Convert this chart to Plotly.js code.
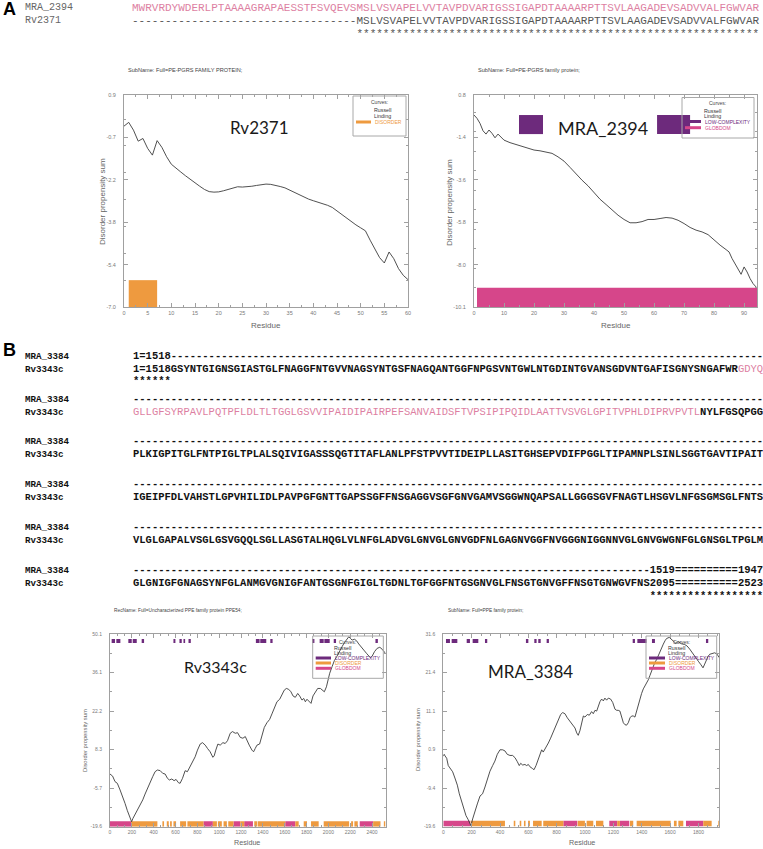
<!DOCTYPE html>
<html><head><meta charset="utf-8">
<script src="https://cdn.plot.ly/plotly-3.0.1.min.js"></script>
<style>html,body{margin:0;padding:0;background:#fff}#chart{width:763px;height:849px}</style>
</head><body><div id="chart"></div>
<script>
// ================= DATA =================
// Panel A – Rv2371 (GlobPlot disorder propensity sum)
const rv2371Residue = [0,1,2,3,4,5,6,7,8,9,10,11,12,13,14,15,16,17,18,19,20,21,22,23,24,25,26,27,28,29,30,31,32,33,34,35,36,37,38,39,40,41,42,43,44,45,46,47,48,49,50,51,52,53,54,55,56,57,58,59,60];
const rv2371Propensity = [-0.26,-0.12,-0.41,-0.82,-0.72,-1.09,-1.34,-0.80,-1.05,-1.40,-1.68,-1.84,-1.97,-2.11,-2.25,-2.37,-2.50,-2.62,-2.70,-2.72,-2.71,-2.67,-2.62,-2.57,-2.52,-2.53,-2.52,-2.50,-2.47,-2.45,-2.42,-2.43,-2.46,-2.51,-2.56,-2.65,-2.73,-2.82,-2.91,-2.98,-3.04,-3.09,-3.14,-3.21,-3.29,-3.42,-3.55,-3.69,-3.83,-3.94,-4.05,-4.16,-4.51,-4.81,-5.16,-5.36,-4.95,-5.20,-5.57,-5.82,-5.98];
const rv2371DisorderStart = [1];
const rv2371DisorderEnd = [7];

// Panel A – MRA_2394
const mra2394Residue = [0,1,2,3,4,5,6,7,8,9,10,12,14,16,18,20,22,24,26,28,30,32,34,36,38,40,42,44,46,48,50,52,54,56,58,60,62,64,66,68,70,72,74,76,78,80,82,84,85,86,88,89,90,91,92,93,94];
const mra2394Propensity = [-0.23,-0.40,-0.66,-1.04,-1.21,-1.00,-1.17,-1.40,-1.21,-1.38,-1.52,-1.65,-1.74,-1.86,-1.96,-2.03,-2.07,-2.12,-2.20,-2.38,-2.60,-2.92,-3.27,-3.58,-3.87,-4.23,-4.56,-4.83,-5.12,-5.38,-5.60,-5.77,-5.77,-5.71,-5.60,-5.60,-5.55,-5.50,-5.53,-5.64,-5.81,-6.01,-6.15,-6.24,-6.38,-6.67,-6.92,-7.15,-7.27,-7.61,-8.13,-8.42,-8.04,-8.30,-8.64,-8.90,-9.07];
const mra2394GlobdomStart = [1];
const mra2394GlobdomEnd = [95];
const mra2394LowComplexStart = [15, 61];
const mra2394LowComplexEnd = [23, 72];

// Panel B – Rv3343c
const rv3343cResidue = [0,24,46,67,92,116,138,159,177,188,198,210,229,254,275,300,321,342,367,391,413,434,459,483,505,526,544,566,587,605,627,642,664,688,709,734,758,780,801,826,847,872,893,917,942,954,969,988,1009,1034,1055,1076,1101,1122,1147,1168,1193,1217,1239,1254,1275,1300,1315,1330,1346,1370,1391,1413,1437,1462,1483,1505,1529,1554,1575,1596,1615,1636,1657,1676,1697,1719,1737,1758,1774,1789,1804,1829,1841,1859,1881,1902,1927,1948,1963,1982,1994,2012,2034,2055,2079,2104,2125,2147,2171,2187,2202,2217,2238,2257,2278,2300,2324,2349,2370,2385,2401,2422,2446,2471,2492,2514,2523];
const rv3343cPropensity = [-0.55,-1.3,-3.3,-3.9,-6.3,-8.7,-11.2,-13.8,-15.4,-16.9,-17.8,-16.6,-15.2,-13.0,-11.4,-9.9,-7.8,-5.7,-3.9,-1.5,0.3,0.9,0.7,-0.3,-0.55,-2.1,-2.7,-2.35,-2.95,-2.5,-3.7,-3.9,-2.1,0.65,0.3,2.1,3.9,5.7,8.1,10.3,10.8,9.9,8.7,7.5,5.5,6.0,8.1,10.3,9.9,10.8,10.5,11.5,14.2,14.8,14.2,14.4,12.7,12.4,13.0,11.5,9.9,8.1,7.5,8.7,9.9,10.3,13.0,16.3,18.0,19.2,21.2,23.6,25.6,26.5,28.4,29.8,30.4,30.1,29.2,27.7,27.2,28.6,27.7,26.2,26.8,25.6,26.5,25.6,25.0,27.7,28.9,30.4,30.4,29.8,29.2,31.0,33.5,35.9,38.3,40.5,42.1,43.7,45.5,47.0,48.5,49.1,48.5,47.9,48.2,47.7,46.5,45.3,44.3,43.1,42.1,41.5,42.1,43.7,44.9,45.3,44.6,43.7,43.1];
const rv3343cGlobdomStart = [0,856,1131,1229,1605,2287];
const rv3343cGlobdomEnd   = [193,942,1193,1309,1697,2410];
const rv3343cDisorderStart = [193,480,520,550,581,642,709,942,988,1040,1083,1193,1321,1352,1697,1774,1841,1957,2208,2238,2410,2508];
const rv3343cDisorderEnd   = [434,495,538,566,605,697,856,979,1024,1070,1131,1229,1346,1605,1728,1804,1911,2190,2226,2269,2477,2523];
const rv3343cLowComplexStart = [15,58,168,208,290,581,636,673,719,1336,1376,1468,1850,1920,1963,2049,2431];
const rv3343cLowComplexEnd   = [46,95,199,245,312,599,657,688,740,1370,1431,1489,1872,1957,2012,2070,2453];

// Panel B – MRA_3384
const mra3384Residue = [0,6,12,24,35,52,66,82,99,113,129,146,160,176,188,195,207,223,240,259,277,294,310,329,348,364,381,400,419,435,451,470,489,506,522,536,546,560,576,588,600,611,628,640,654,670,682,694,705,722,741,757,776,795,811,828,842,858,875,894,912,929,941,952,964,976,988,999,1016,1030,1046,1058,1070,1082,1093,1105,1117,1129,1140,1152,1164,1180,1195,1211,1223,1234,1246,1258,1270,1281,1293,1305,1317,1329,1340,1352,1364,1376,1387,1399,1411,1423,1434,1446,1458,1470,1481,1493,1505,1517,1528,1540,1552,1564,1575,1594,1611,1627,1641,1656,1680,1703,1720,1738,1755,1773,1790,1802,1818,1832,1844,1855,1867,1879,1896,1914,1930,1947];
const mra3384Propensity = [-0.9,-0.4,-0.8,-1.45,-3.4,-4.15,-5.05,-6.7,-8.6,-10.9,-13.1,-15.4,-16.7,-17.8,-19.0,-19.4,-17.6,-15.4,-13.6,-11.5,-10.9,-9.1,-7.3,-4.9,-3.4,-2.2,-0.4,0.8,0.8,0.5,-0.4,-0.7,-0.7,-1.3,-2.35,-3.4,-2.8,-3.25,-3.1,-3.4,-3.1,-3.7,-4.15,-4.5,-3.4,-1.9,-0.55,0.8,0.2,1.25,2.6,3.9,5.7,7.5,8.9,10.2,10.7,10.4,9.3,8.4,7.35,6.6,5.3,4.65,5.9,8.0,9.8,9.5,10.2,10.0,10.95,10.4,11.3,11.1,12.5,13.6,14.3,13.8,14.55,14.0,14.55,14.3,13.4,11.6,11.3,11.3,11.1,9.3,8.0,7.5,7.35,8.0,9.3,9.8,9.8,9.5,11.1,12.7,14.7,15.8,17.0,17.9,18.3,19.4,20.6,21.9,23.2,24.1,24.8,25.9,27.1,28.2,28.9,29.8,30.4,30.7,30.2,29.5,29.1,29.6,29.0,28.8,28.4,27.6,26.6,25.6,24.8,24.2,23.4,22.6,23.6,24.7,25.6,26.2,26.5,26.6,26.3,25.3];
const mra3384GlobdomStart = [0,847,1171,1246,1712];
const mra3384GlobdomEnd   = [190,945,1227,1312,1834];
const mra3384DisorderStart = [193,497,539,569,598,633,705,948,1011,1077,1227,1317,1364,1627,1658,1834,1940];
const mra3384DisorderEnd   = [435,508,550,580,611,694,847,999,1058,1129,1246,1340,1604,1646,1693,1893,1947];
const mra3384LowComplexStart = [19,59,165,207,294,583,642,670,729,1336,1369,1472,1853];
const mra3384LowComplexEnd   = [47,99,188,247,310,600,658,687,745,1352,1434,1493,1869];

// Tick labels
const rv2371YTickVals = [0.9,-0.68,-2.26,-3.84,-5.42,-7.0];
const rv2371YTickText = ['0.9','-0.7','-2.2','-3.8','-5.4','-7.0'];
const mra2394YTickVals = [0.8,-1.38,-3.56,-5.74,-7.92,-10.1];
const mra2394YTickText = ['0.8','-1.4','-3.6','-5.8','-8.0','-10.1'];
const rv3343cYTickVals = [-19.6,-5.66,8.28,22.22,36.16,50.1];
const rv3343cYTickText = ['-19.6','-5.7','8.3','22.2','36.1','50.1'];
const mra3384YTickVals = [-19.6,-9.36,0.88,11.12,21.36,31.6];
const mra3384YTickText = ['-19.6','-9.4','0.9','11.1','21.4','31.6'];

// Alignment text
const seqA_MRA2394 = 'MWRVRDYWDERLPTAAAAGRAPAESSTFSVQEVSMSLVSVAPELVVTAVPDVARIGSSIGAPDTAAAARPTTSVLAAGADEVSADVVALFGWVAR';
const seqA_Rv2371 = '----------------------------------MSLVSVAPELVVTAVPDVARIGSSIGAPDTAAAARPTTSVLAAGADEVSADVVALFGWVAR';
const starsA = '\u00A0'.repeat(34) + '*'.repeat(61);

const seqB_MRA = [
  '1=1518' + '-'.repeat(94),
  '-'.repeat(100), '-'.repeat(100), '-'.repeat(100), '-'.repeat(100),
  '-'.repeat(82) + '1519==========1947'
];
const seqB_Rv = [
  '1=1518GSYNTGIGNSGIASTGLFNAGGFNTGVVNAGSYNTGSFNAGQANTGGFNPGSVNTGWLNTGDINTGVANSGDVNTGAFISGNYSNGAFWR|GDYQ',
  '|GLLGFSYRPAVLPQTPFLDLTLTGGLGSVVIPAIDIPAIRPEFSANVAIDSFTVPSIPIPQIDLAATTVSVGLGPITVPHLDIPRVPVTL|NYLFGSQPGG',
  'PLKIGPITGLFNTPIGLTPLALSQIVIGASSSQGTITAFLANLPFSTPVVTIDEIPLLASITGHSEPVDIFPGGLTIPAMNPLSINLSGGTGAVTIPAIT',
  'IGEIPFDLVAHSTLGPVHILIDLPAVPGFGNTTGAPSSGFFNSGAGGVSGFGNVGAMVSGGWNQAPSALLGGGSGVFNAGTLHSGVLNFGSGMSGLFNTS',
  'VLGLGAPALVSGLGSVGQQLSGLLASGTALHQGLVLNFGLADVGLGNVGLGNVGDFNLGAGNVGGFNVGGGNIGGNNVGLGNVGWGNFGLGNSGLTPGLM',
  'GLGNIGFGNAGSYNFGLANMGVGNIGFANTGSGNFGIGLTGDNLTGFGGFNTGSGNVGLFNSGTGNVGFFNSGTGNWGVFNS2095==========2523'
];

// ================= STYLE / LAYOUT =================
const W = 763, H = 849;
const PX = x => x / W, PY = y => 1 - y / H;
const C_ORANGE = '#EE9A3F', C_PURPLE = '#6D2A7C', C_PINK = '#D6468A', C_SEQPINK = '#DD7FA2';
const LINE = '#3c3c3c', AX = '#a0a0a0';
const SANS = 'Liberation Sans, Arial, sans-serif';
const MONO = 'Liberation Mono, DejaVu Sans Mono, monospace';

function segBars(starts, ends, y0, y1, color, xa, ya) {
  return {
    type: 'bar', xaxis: xa, yaxis: ya,
    x: starts.map((s, i) => (s + ends[i]) / 2),
    width: ends.map((e, i) => e - starts[i]),
    base: starts.map(() => y0),
    y: starts.map(() => y1 - y0),
    marker: { color: color, line: { width: 0 } },
    hoverinfo: 'skip', showlegend: false
  };
}
function curve(x, y, xa, ya) {
  return { type: 'scatter', mode: 'lines', x: x, y: y, xaxis: xa, yaxis: ya,
    line: { color: LINE, width: 0.9 }, hoverinfo: 'skip', showlegend: false };
}

const traces = [
  segBars(rv2371DisorderStart, rv2371DisorderEnd, -7.0, -6.0, C_ORANGE, 'x', 'y'),
  curve(rv2371Residue, rv2371Propensity, 'x', 'y'),
  segBars(mra2394GlobdomStart, mra2394GlobdomEnd, -10.1, -9.11, C_PINK, 'x2', 'y2'),
  segBars(mra2394LowComplexStart, mra2394LowComplexEnd, -1.21, -0.23, C_PURPLE, 'x2', 'y2'),
  curve(mra2394Residue, mra2394Propensity, 'x2', 'y2'),
  segBars(rv3343cGlobdomStart, rv3343cGlobdomEnd, -19.6, -17.6, C_PINK, 'x3', 'y3'),
  segBars(rv3343cDisorderStart, rv3343cDisorderEnd, -19.6, -17.6, C_ORANGE, 'x3', 'y3'),
  segBars(rv3343cLowComplexStart, rv3343cLowComplexEnd, 46.8, 48.3, C_PURPLE, 'x3', 'y3'),
  curve(rv3343cResidue, rv3343cPropensity, 'x3', 'y3'),
  segBars(mra3384GlobdomStart, mra3384GlobdomEnd, -19.6, -18.1, C_PINK, 'x4', 'y4'),
  segBars(mra3384DisorderStart, mra3384DisorderEnd, -19.6, -18.1, C_ORANGE, 'x4', 'y4'),
  segBars(mra3384LowComplexStart, mra3384LowComplexEnd, 29.2, 30.3, C_PURPLE, 'x4', 'y4'),
  curve(mra3384Residue, mra3384Propensity, 'x4', 'y4')
];

function ax(extra, fs) {
  return Object.assign({
    showline: true, linecolor: AX, linewidth: 1, mirror: 'ticks',
    ticks: 'inside', ticklen: 4, tickcolor: AX, tickwidth: 1,
    showgrid: false, zeroline: false, fixedrange: true,
    tickfont: { family: SANS, size: fs, color: '#7a7a7a' }
  }, extra);
}
function xa(dom, anchor, range, dtick, mdtick, fs) {
  return ax({ domain: dom, anchor: anchor, range: range, tickmode: 'linear', tick0: 0, dtick: dtick,
    minor: { ticks: 'inside', ticklen: 2, tickcolor: AX, tick0: 0, dtick: mdtick } }, fs);
}
function ya(dom, anchor, range, vals, text, fs) {
  return ax({ domain: dom, anchor: anchor, range: range, tickmode: 'array', tickvals: vals, ticktext: text,
    ticklabelstandoff: 6,
    minor: { ticks: 'inside', ticklen: 2, tickcolor: AX, tick0: range[0], dtick: (vals[1] - vals[0]) / 2 } }, fs);
}

const annotations = [];
function txt(x, y, text, o) {
  o = o || {};
  annotations.push({
    xref: 'paper', yref: 'paper', x: PX(x), y: PY(y), text: text, showarrow: false,
    xanchor: o.xa || 'left', yanchor: 'middle', textangle: o.angle || 0,
    font: { family: o.family || SANS, size: o.size || 6, color: o.color || '#333' },
    borderpad: 0
  });
}

// Panel labels
txt(2, 9, '<b>A</b>', { size: 18, color: '#000' });
txt(2, 350, '<b>B</b>', { size: 18, color: '#000' });

// Section A alignment
txt(24, 8, 'MRA_2394', { family: MONO, size: 10, color: '#666' });
txt(131, 8, seqA_MRA2394, { family: MONO, size: 11, color: C_SEQPINK });
txt(24, 21, 'Rv2371', { family: MONO, size: 10, color: '#666' });
txt(131, 21, seqA_Rv2371, { family: MONO, size: 11, color: '#555' });
txt(131, 34, starsA, { family: MONO, size: 11, color: '#555' });

// Section B alignment
const blockY = [356, 399, 441, 484, 527, 570];
function colorize(s) {
  const parts = s.split('|');
  if (parts.length === 1) return '<b>' + s + '</b>';
  if (s.startsWith('|')) return '<span style="color:' + C_SEQPINK + '">' + parts[1] + '</span><b>' + parts[2] + '</b>';
  return '<b>' + parts[0] + '</b><span style="color:' + C_SEQPINK + '">' + parts[1] + '</span>';
}
blockY.forEach((y, i) => {
  txt(24, y, '<b>MRA_3384</b>', { family: MONO, size: 9.2, color: '#111' });
  txt(132, y, '<b>' + seqB_MRA[i] + '</b>', { family: MONO, size: 10.5, color: '#111' });
  txt(24, y + 13, '<b>Rv3343c</b>', { family: MONO, size: 9.2, color: '#111' });
  txt(132, y + 13, colorize(seqB_Rv[i]), { family: MONO, size: 10.5, color: '#111' });
});
txt(132, 381, '<b>******</b>', { family: MONO, size: 10.5, color: '#111' });
txt(132, 596, '<b>' + '\u00A0'.repeat(82) + '*'.repeat(18) + '</b>', { family: MONO, size: 10.5, color: '#111' });

// Subtitles
txt(127, 70, 'SubName: Full=PE-PGRS FAMILY PROTEIN;', { size: 5.6, color: '#444' });
txt(477, 70, 'SubName: Full=PE-PGRS family protein;', { size: 5.6, color: '#444' });
txt(113, 610, 'RecName: Full=Uncharacterized PPE family protein PPE54;', { size: 4.8, color: '#444' });
txt(447, 610, 'SubName: Full=PPE family protein;', { size: 4.8, color: '#444' });

// Big protein labels
const BIG = 'Lato, Noto Sans, sans-serif';
txt(259, 128, 'Rv2371', { xa: 'center', size: 17, family: BIG, color: '#1a1a1a' });
txt(603, 128, 'MRA_2394', { xa: 'center', size: 18, family: BIG, color: '#1a1a1a' });
txt(215, 666, 'Rv3343c', { xa: 'center', size: 16, family: BIG, color: '#1a1a1a' });
txt(530, 671, 'MRA_3384', { xa: 'center', size: 17, family: BIG, color: '#1a1a1a' });

// Axis titles
[[102, 202, 266, 325, 8, 8], [449, 202, 616, 325, 8, 8], [85, 741, 247, 842, 5.8, 7.2], [418, 740, 582, 842, 5.8, 7.2]].forEach(a => {
  txt(a[0], a[1], 'Disorder propensity sum', { xa: 'center', angle: -90, size: a[4], color: '#666' });
  txt(a[2], a[3], 'Residue', { xa: 'center', size: a[5], color: '#666' });
});

// Legends
const shapes = [];
function rect(x0, y0, x1, y1, fill, line) {
  shapes.push({ type: 'rect', xref: 'paper', yref: 'paper', x0: PX(x0), x1: PX(x1), y0: PY(y1), y1: PY(y0),
    fillcolor: fill || 'rgba(0,0,0,0)', line: { color: line || 'rgba(0,0,0,0)', width: line ? 1 : 0 }, layer: 'above' });
}
function legend(bx0, by0, bx1, by1, items, cx, tx, ys) {
  rect(bx0, by0, bx1, by1, null, '#a8a8a8');
  txt(cx, by0 + 6, 'Curves:', { xa: 'center', size: 5, color: '#444' });
  txt(tx, ys[0], 'Russell', { size: 5.3, color: '#333' });
  txt(tx, ys[1], 'Linding', { size: 5.3, color: '#333' });
  items.forEach((it, i) => {
    const y = ys[2 + i];
    rect(bx0 + 3, y - 1.5, tx - 2, y + 1.5, it[1]);
    txt(tx + 0.5, y, it[0], { size: 5, color: it[1] });
  });
}
legend(353, 96, 406, 136, [['DISORDER', C_ORANGE]], 379, 373, [110, 116, 122]);
legend(682, 97.5, 754, 138, [['LOW-COMPLEXITY', C_PURPLE], ['GLOBDOM', C_PINK]], 717, 703, [111, 116.5, 121.5, 127.7]);
legend(312.7, 636, 383.3, 678.3, [['LOW-COMPLEXITY', C_PURPLE], ['DISORDER', C_ORANGE], ['GLOBDOM', C_PINK]], 347, 333, [648, 653, 658, 663, 668.3]);
legend(646, 636, 716.7, 678.3, [['LOW-COMPLEXITY', C_PURPLE], ['DISORDER', C_ORANGE], ['GLOBDOM', C_PINK]], 681, 667, [648, 653, 658, 663, 668.3]);

const layout = {
  width: W, height: H, margin: { l: 0, r: 0, t: 0, b: 0 },
  paper_bgcolor: '#fff', plot_bgcolor: '#fff', showlegend: false, barmode: 'overlay',
  xaxis:  xa([PX(124), PX(408)], 'y', [0, 60], 5, 2.5, 5.5),
  yaxis:  ya([PY(307), PY(95)], 'x', [-7.0, 0.9], rv2371YTickVals, rv2371YTickText, 5.5),
  xaxis2: xa([PX(474), PX(757)], 'y2', [0, 94.3], 10, 5, 5.5),
  yaxis2: ya([PY(307), PY(95)], 'x2', [-10.1, 0.8], mra2394YTickVals, mra2394YTickText, 5.5),
  xaxis3: xa([PX(110), PX(385.5)], 'y3', [0, 2523], 200, 200 / 3, 5),
  yaxis3: ya([PY(826.7), PY(634)], 'x3', [-19.6, 50.1], rv3343cYTickVals, rv3343cYTickText, 5),
  xaxis4: xa([PX(443.3), PX(719.3)], 'y4', [0, 1947], 200, 200 / 3, 5),
  yaxis4: ya([PY(826.5), PY(634)], 'x4', [-19.6, 31.6], mra3384YTickVals, mra3384YTickText, 5),
  annotations: annotations, shapes: shapes
};

Plotly.newPlot('chart', traces, layout, { staticPlot: true, displayModeBar: false });
</script>
</body></html>
